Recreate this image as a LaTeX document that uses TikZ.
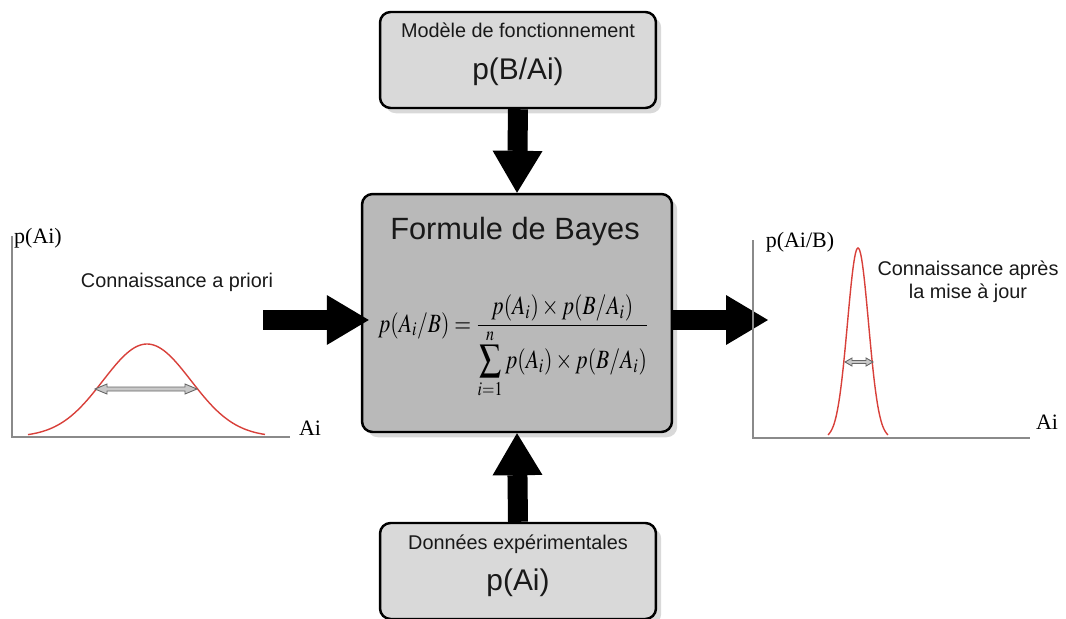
\documentclass[tikz,border=0pt]{standalone}
\usepackage{mathptmx}
\usepackage{amsmath}
\usepackage{graphicx}
\usepackage[no-math]{fontspec}
\setmainfont{Liberation Sans}
\newfontfamily\timesfont{Liberation Serif}
\usetikzlibrary{positioning, arrows.meta, shadows}

\definecolor{boxgray}{HTML}{D9D9D9}
\definecolor{bayesgray}{HTML}{B9B9B9}
\definecolor{curvered}{HTML}{D8403A}
\definecolor{axisgray}{HTML}{8A8A8A}
\definecolor{arrowgray}{HTML}{C8C8C8}

\tikzset{
  infobox/.style={draw=black, line width=1.4pt, rounded corners=6pt, fill=boxgray,
    drop shadow={opacity=0.3, shadow xshift=3pt, shadow yshift=-3pt},
    minimum width=5.52cm, minimum height=1.92cm, inner sep=0pt},
  bayesbox/.style={infobox, fill=bayesgray, minimum width=6.2cm, minimum height=4.76cm},
  smalltext/.style={font=\fontsize{11.3}{13}\selectfont, text=black!90, inner sep=0pt},
  bigtext/.style={font=\fontsize{17}{20}\selectfont, text=black!90, inner sep=0pt},
  serifbox/.style={font=\timesfont\fontsize{12.5}{14}\selectfont, inner sep=0pt},
  bigarrow/.style={line width=0.4cm, -{Triangle[width=1cm, length=0.84cm, line width=0pt]}},
  curve/.style={curvered, line width=0.8pt},
  axis/.style={axisgray, line width=0.7pt},
  widtharrow/.style={draw=black!60, fill=arrowgray, line width=0.5pt}
}

\begin{document}
\begin{tikzpicture}[x=0.02cm, y=-0.02cm]
  \useasboundingbox (0,0) rectangle (1066,619);

  % boxes
  \node[infobox] (model) at (518,60) {};
  \node[smalltext] (modeltitle) at (518,30) {Modèle de fonctionnement};
  \node[bigtext] (modelvalue) at (518,72) {p(B/Ai)};

  \node[bayesbox] (bayes) at (517,313) {};
  \node[bigtext, font=\fontsize{17.5}{20}\selectfont] (bayestitle) at (515,232) {Formule de Bayes};
  \node[inner sep=0pt, font=\fontsize{15}{18}\selectfont, anchor=text, text depth=0pt] (formula) at (378,332)
    {\scalebox{0.82}[1]{$\displaystyle p(A_i/B)=\dfrac{p(A_i)\times p(B/A_i)}{\displaystyle\sum_{i=1}^{n}p(A_i)\times p(B/A_i)}$}};

  \node[infobox] (data) at (518,571) {};
  \node[smalltext] (datatitle) at (518,544) {Données expérimentales};
  \node[bigtext] (datavalue) at (518,583) {p(Ai)};

  % block arrows
  \coordinate (priorstart) at (263,320);
  \coordinate (posteriorend) at (768,320);
  \draw[bigarrow] (model.south) -- (bayes.north);
  \draw[bigarrow] (data.north) -- (bayes.south);
  \draw[bigarrow, shorten >=-0.16cm] (priorstart) -- (priorstart -| bayes.west);
  \draw[bigarrow] (posteriorend -| bayes.east) -- (posteriorend);

  % prior plot
  \draw[axis] (12,236) -- (12,437) -- (290,437);
  \node[serifbox] (priorylabel) at (38,238) {p(Ai)};
  \node[serifbox] (priorxlabel) at (310,428) {Ai};
  \node[smalltext] (priortext) at (177,282) {Connaissance a priori};
  \draw[curve] plot[domain=28:265, samples=90] (\x, {437-93*exp(-((\x-147)^2)/(2*44^2))});
  \draw[widtharrow] (95,389) -- (107,384) -- (107,387) -- (185,387) -- (185,384) -- (197,389)
    -- (185,394) -- (185,391) -- (107,391) -- (107,394) -- cycle;

  % posterior plot
  \draw[axis] (753,240) -- (753,438) -- (1030,438);
  \node[serifbox] (postylabel) at (800,242) {p(Ai/B)};
  \node[serifbox] (postxlabel) at (1047,422) {Ai};
  \node[smalltext, align=center] (posttext) at (968,282) {Connaissance après\\la mise à jour};
  \draw[curve] plot[domain=828:888, samples=90] (\x, {438-190*exp(-((\x-858)^2)/(2*10.5^2))});
  \draw[widtharrow] (845,362) -- (852,358) -- (852,360.5) -- (866,360.5) -- (866,358) -- (873,362)
    -- (866,366) -- (866,363.5) -- (852,363.5) -- (852,366) -- cycle;
\end{tikzpicture}
\end{document}
